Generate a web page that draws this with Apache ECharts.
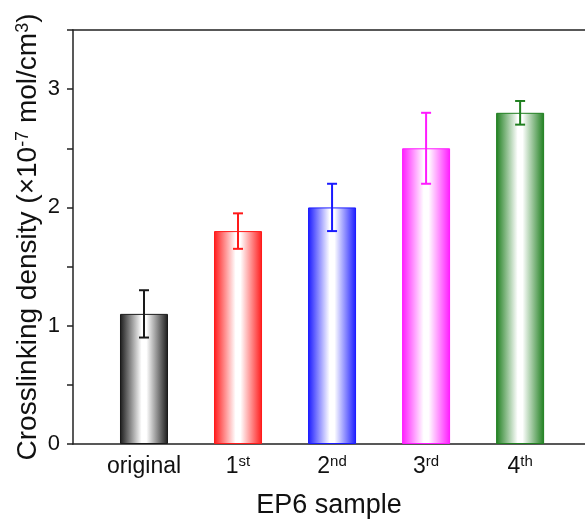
<!DOCTYPE html>
<html>
<head>
<meta charset="utf-8">
<script src="https://cdn.jsdelivr.net/npm/echarts@6/dist/echarts.min.js"></script>
<style>
  html, body { margin: 0; padding: 0; background: #fff; }
  #chart { width: 585px; height: 524px; }
</style>
</head>
<body>
<div id="chart"></div>
<script>
// sample names, bar heights and error bar half-widths
const categories = ['original', '1st', '2nd', '3rd', '4th']
const values = [1.1, 1.8, 2.0, 2.5, 2.8]
const errors = [0.2, 0.15, 0.2, 0.3, 0.1]
const yTicks = [0, 1, 2, 3]

// 配色
const colors = ['#1a1a1a', '#ff1a1a', '#1a1aff', '#ff1aff', '#1f7f1f']

const font = '"Liberation Sans", Arial, sans-serif'
const axisColor = '#222'
// x range: the frame is cut off on the right like the original figure
const xMin = 0.245
const xMax = 5.69

const chart = echarts.init(document.getElementById('chart'))

const barGradient = (c) => new echarts.graphic.LinearGradient(0, 0, 1, 0, [
  { offset: 0, color: c },
  { offset: 0.45, color: '#ffffff' },
  { offset: 0.55, color: '#ffffff' },
  { offset: 1, color: c }
])

const xLabel = (v) => {
  const name = categories[Math.round(v) - 1]
  if (!name) return ''
  const m = name.match(/^(\d+)(\D+)$/)
  return m ? '{n|' + m[1] + '}{sup|' + m[2] + '}' : '{n|' + name + '}'
}

chart.setOption({
  animation: false,
  grid: {
    left: 73,
    top: 30,
    right: 0,
    bottom: 76
  },
  xAxis: [
    {
      type: 'value',
      min: xMin,
      max: xMax,
      name: 'EP6 sample',
      nameLocation: 'middle',
      nameGap: 48,
      nameMoveOverlap: false,
      nameTextStyle: { fontFamily: font, fontSize: 27, color: '#111' },
      axisLine: { lineStyle: { color: axisColor, width: 1.5 } },
      axisTick: { show: false },
      splitLine: { show: false },
      axisLabel: {
        customValues: [1, 2, 3, 4, 5],
        margin: 10,
        formatter: xLabel,
        rich: {
          n: { fontFamily: font, fontSize: 23, color: '#111', lineHeight: 26 },
          sup: { fontFamily: font, fontSize: 15, color: '#111', lineHeight: 15, verticalAlign: 'top' }
        }
      }
    },
    {
      // top frame line
      type: 'value',
      position: 'top',
      min: xMin,
      max: xMax,
      axisLine: { show: true, lineStyle: { color: axisColor, width: 1.5 } },
      axisTick: { show: false },
      axisLabel: { show: false },
      splitLine: { show: false }
    }
  ],
  yAxis: [
    {
      type: 'value',
      min: 0,
      max: 3.5,
      interval: 0.5,
      name: 'Crosslinking density (\u00d710{sup|-7} mol/cm{sup|3})',
      nameLocation: 'middle',
      nameGap: 31,
      nameMoveOverlap: false,
      nameTextStyle: {
        fontFamily: font, fontSize: 28, color: '#111',
        rich: {
          sup: { fontFamily: font, fontSize: 18, color: '#111', verticalAlign: 'top', lineHeight: 18 }
        }
      },
      axisLine: { show: true, lineStyle: { color: axisColor, width: 1.5 } },
      axisTick: { show: true, inside: false, length: 6, lineStyle: { color: axisColor, width: 1.5 } },
      splitLine: { show: false },
      axisLabel: {
        margin: 13,
        fontFamily: font,
        fontSize: 22,
        color: '#111',
        formatter: (v) => (yTicks.indexOf(v) >= 0 ? String(v) : '')
      }
    }
  ],
  series: [
    {
      type: 'bar',
      barWidth: 48,
      data: values.map((v, i) => ({
        value: [i + 1, v],
        itemStyle: {
          color: barGradient(colors[i]),
          borderColor: colors[i],
          borderWidth: 1
        }
      }))
    },
    {
      type: 'custom',
      data: values.map((v, i) => [i + 1, v - errors[i], v + errors[i], i]),
      renderItem: (params, api) => {
        const x = api.value(0)
        const lo = api.coord([x, api.value(1)])
        const hi = api.coord([x, api.value(2)])
        const c = colors[api.value(3)]
        const half = 5
        const style = { stroke: c, lineWidth: 2 }
        return {
          type: 'group',
          children: [
            { type: 'line', shape: { x1: lo[0], y1: lo[1], x2: hi[0], y2: hi[1] }, style },
            { type: 'line', shape: { x1: hi[0] - half, y1: hi[1], x2: hi[0] + half, y2: hi[1] }, style },
            { type: 'line', shape: { x1: lo[0] - half, y1: lo[1], x2: lo[0] + half, y2: lo[1] }, style }
          ]
        }
      },
      z: 5
    }
  ]
})
</script>
</body>
</html>
